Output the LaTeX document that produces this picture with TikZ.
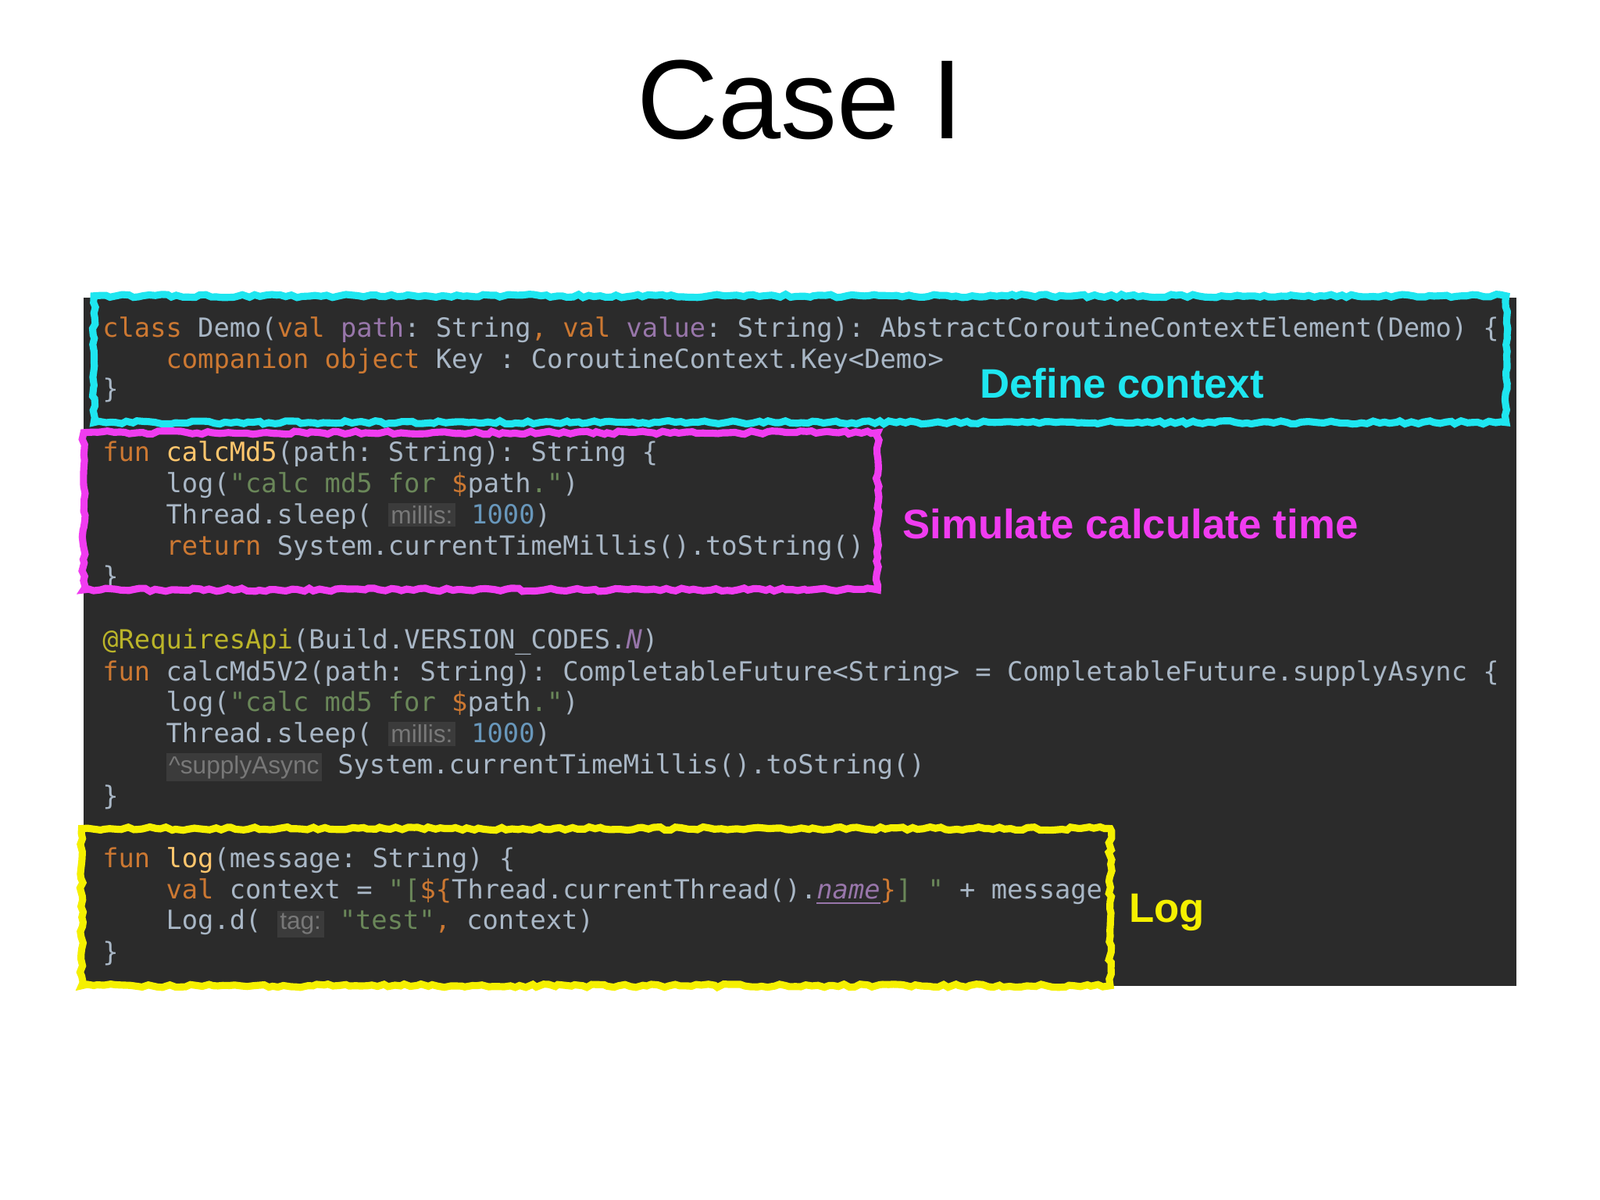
\documentclass[tikz,border=0pt]{standalone}
\usepackage{fontspec}
\setmainfont{Liberation Sans}
\setmonofont{DejaVu Sans Mono}
\usetikzlibrary{decorations.pathmorphing}
\definecolor{bg}{HTML}{2B2B2B}
\definecolor{tx}{HTML}{A9B7C6}
\definecolor{kw}{HTML}{CC7832}
\definecolor{st}{HTML}{6A8759}
\definecolor{pu}{HTML}{9876AA}
\definecolor{nu}{HTML}{6897BB}
\definecolor{an}{HTML}{BBB529}
\definecolor{fn}{HTML}{FFC66D}
\definecolor{hint}{HTML}{787878}
\definecolor{hintbg}{HTML}{3B3B3B}
\definecolor{mycyan}{HTML}{1EE6F0}
\definecolor{mymag}{HTML}{F03CF0}
\definecolor{myyel}{HTML}{F5F000}
\newcommand\K[1]{\textcolor{kw}{#1}}
\newcommand\Sg[1]{\textcolor{st}{#1}}
\newcommand\Pu[1]{\textcolor{pu}{#1}}
\newcommand\Nu[1]{\textcolor{nu}{#1}}
\newcommand\Fn[1]{\textcolor{fn}{#1}}
\newcommand\Hn[1]{{\setlength\fboxsep{1pt}\colorbox{hintbg}{\normalfont\fontsize{9}{9}\selectfont\textcolor{hint}{#1}}}}
\begin{document}
\begin{tikzpicture}[x=0.013061cm,y=-0.013061cm,
  code/.style={anchor=base west,inner sep=0,text=tx,font=\ttfamily\fontsize{9.6}{10}\selectfont},
  hl/.style={line width=2.6pt,decorate,decoration={random steps,segment length=2pt,amplitude=0.6pt}},
  lab/.style={anchor=base west,inner sep=0,font=\bfseries\fontsize{15}{16}\selectfont}]
\useasboundingbox (0,0) rectangle (1568,1176);
\fill[white] (0,0) rectangle (1568,1176);
\node[anchor=base,inner sep=0,font=\fontsize{41}{44}\selectfont] (title) at (784,136) {Case I};
\fill[bg] (82,292) rectangle (1486,966);
\node[code] (l1) at (100,330) {\K{class} Demo(\K{val} \Pu{path}: String\K{,} \K{val} \Pu{value}: String): AbstractCoroutineContextElement(Demo) \{};
\node[code] (l2) at (100,361) {\phantom{xxxx}\K{companion object} Key : CoroutineContext.Key<Demo>};
\node[code] (l3) at (100,390) {\}};
\node[code] (l4) at (100,452) {\K{fun} \Fn{calcMd5}(path: String): String \{};
\node[code] (l5) at (100,483) {\phantom{xxxx}log(\Sg{"calc md5 for }\K{\$}path\Sg{."})};
\node[code] (l6) at (100,513) {\phantom{xxxx}Thread.sleep( \Hn{millis:} \Nu{1000})};
\node[code] (l7) at (100,544) {\phantom{xxxx}\K{return} System.currentTimeMillis().toString()};
\node[code] (l8) at (100,574) {\}};
\node[code] (l9) at (100,636) {\textcolor{an}{@RequiresApi}(Build.VERSION\_CODES.\Pu{\textit{N}})};
\node[code] (l10) at (100,667) {\K{fun} calcMd5V2(path: String): CompletableFuture<String> = CompletableFuture.supplyAsync \{};
\node[code] (l11) at (100,697) {\phantom{xxxx}log(\Sg{"calc md5 for }\K{\$}path\Sg{."})};
\node[code] (l12) at (100,728) {\phantom{xxxx}Thread.sleep( \Hn{millis:} \Nu{1000})};
\node[code] (l13) at (100,758) {\phantom{xxxx}\Hn{\textasciicircum supplyAsync} System.currentTimeMillis().toString()};
\node[code] (l14) at (100,789) {\}};
\node[code] (l15) at (100,850) {\K{fun} \Fn{log}(message: String) \{};
\node[code] (l16) at (100,881) {\phantom{xxxx}\K{val} context = \Sg{"[}\K{\$\{}Thread.currentThread().\Pu{\textit{\underline{name}}}\K{\}}\Sg{] "} + message};
\node[code] (l17) at (100,911) {\phantom{xxxx}Log.d( \Hn{tag:} \Sg{"test"}\K{,} context)};
\node[code] (l18) at (100,942) {\}};
\draw[hl,mycyan] (92,290) rectangle (1476,414);
\draw[hl,mymag] (82,424) rectangle (860,578);
\draw[hl,myyel] (80,812) rectangle (1088,966);
\node[lab,text=mycyan] (d1) at (960,390) {Define context};
\node[lab,text=mymag] (d2) at (884,528) {Simulate calculate time};
\node[lab,text=myyel] (d3) at (1106,904) {Log};
\end{tikzpicture}
\end{document}
